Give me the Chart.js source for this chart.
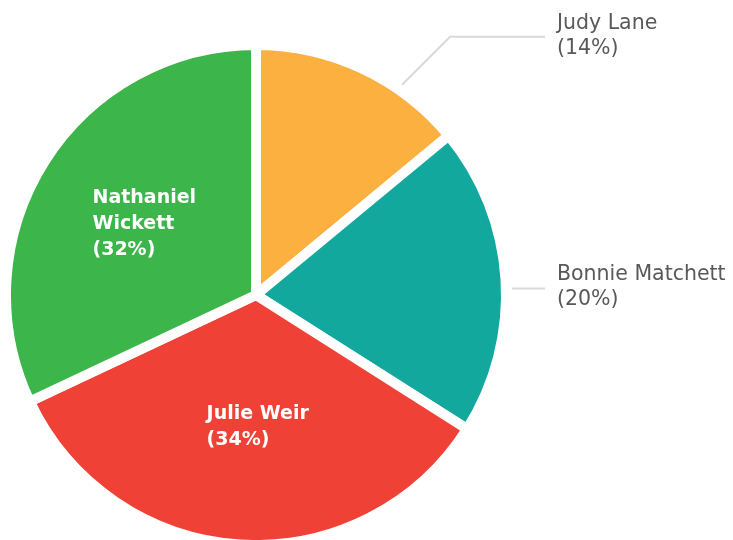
<!DOCTYPE html>
<html>
<head>
<meta charset="utf-8">
<script src="https://cdn.jsdelivr.net/npm/chart.js@4/dist/chart.umd.min.js"></script>
<style>
  html, body { margin: 0; padding: 0; background: #fff; }
</style>
</head>
<body>
<canvas id="share_chart" width="733" height="540"></canvas>
<script>
// Slice names and their share of the total (%)
var names = ["Judy Lane", "Bonnie Matchett", "Julie Weir", "Nathaniel Wickett"];
var shares = [14, 20, 34, 32];
var colours = ["#FBB040", "#13A89E", "#EF4136", "#3CB54A"];

// true = label sits inside the slice, false = outside with a leader line
var inside = [false, false, true, true];

// Draws the name + percentage labels the way the original does
var pieLabels = {
    id: 'pieLabels',
    afterDatasetsDraw: function(chart, args, opts) {
        var ctx = chart.ctx;
        var meta = chart.getDatasetMeta(0);
        var total = shares.reduce(function(a, b) { return a + b; }, 0);
        ctx.save();
        meta.data.forEach(function(arc, i) {
            var p = arc.getProps(['x', 'y', 'startAngle', 'endAngle', 'outerRadius'], true);
            var pct = '(' + Math.round(shares[i] / total * 100) + '%)';
            var r = p.outerRadius - 5;
            if (inside[i]) {
                ctx.font = 'bold 19px "DejaVu Sans"';
                ctx.fillStyle = '#ffffff';
                // wrap the name if it is too wide
                var words = names[i].split(' ');
                var lines = [];
                var cur = '';
                words.forEach(function(w) {
                    var test = cur ? cur + ' ' + w : w;
                    if (cur && ctx.measureText(test).width > 115) {
                        lines.push(cur);
                        cur = w;
                    } else {
                        cur = test;
                    }
                });
                lines.push(cur);
                lines.push(pct);
                var maxW = 0;
                lines.forEach(function(l) { maxW = Math.max(maxW, ctx.measureText(l).width); });
                var mid = (p.startAngle + p.endAngle) / 2;
                var nudge = opts.nudge[i] || 0;
                var cx = p.x + Math.cos(mid) * r * 0.54 + nudge;
                var cy = p.y + Math.sin(mid) * r * 0.54;
                var lh = 26;
                ctx.textAlign = 'left';
                ctx.textBaseline = 'middle';
                lines.forEach(function(l, k) {
                    ctx.fillText(l, cx - maxW / 2, cy + (k - (lines.length - 1) / 2) * lh);
                });
            } else {
                var lead = opts.leaders[i];
                var a = p.startAngle + lead.at * (p.endAngle - p.startAngle);
                var ax = p.x + Math.cos(a) * (p.outerRadius + 6);
                var ay = p.y + Math.sin(a) * (p.outerRadius + 6);
                var ex = ax + lead.rise;
                var ey = ay - lead.rise;
                var endX = p.x + p.outerRadius + 39;
                ctx.strokeStyle = '#d9d9d9';
                ctx.lineWidth = 2;
                ctx.beginPath();
                ctx.moveTo(ax, ay);
                ctx.lineTo(ex, ey);
                ctx.lineTo(endX, ey);
                ctx.stroke();
                ctx.font = '20.5px "DejaVu Sans"';
                ctx.fillStyle = '#595959';
                ctx.textAlign = 'left';
                ctx.textBaseline = 'middle';
                ctx.fillText(names[i], endX + 12, ey - 13.5);
                ctx.fillText(pct, endX + 12, ey + 11.5);
            }
        });
        ctx.restore();
    }
};

var ctx = document.getElementById("share_chart");
var myChart = new Chart(ctx, {
    type: 'pie',
    data: {
        labels: names,
        datasets: [
            {
                data: shares,
                backgroundColor: colours,
                borderColor: "#ffffff",
                borderWidth: 10,
                clip: false
            }
        ]
    },
    options: {
        responsive: false,
        animation: false,
        events: [],
        radius: 250,
        layout: {
            padding: { left: 0, right: 221, top: 50, bottom: 0 }
        },
        plugins: {
            legend: { display: false },
            tooltip: { enabled: false },
            pieLabels: {
                leaders: [
                    { at: 0.69, rise: 48 },
                    { at: 0.53, rise: 0 }
                ],
                nudge: [0, 0, 10, 0]
            }
        }
    },
    plugins: [pieLabels]
});
</script>
</body>
</html>
